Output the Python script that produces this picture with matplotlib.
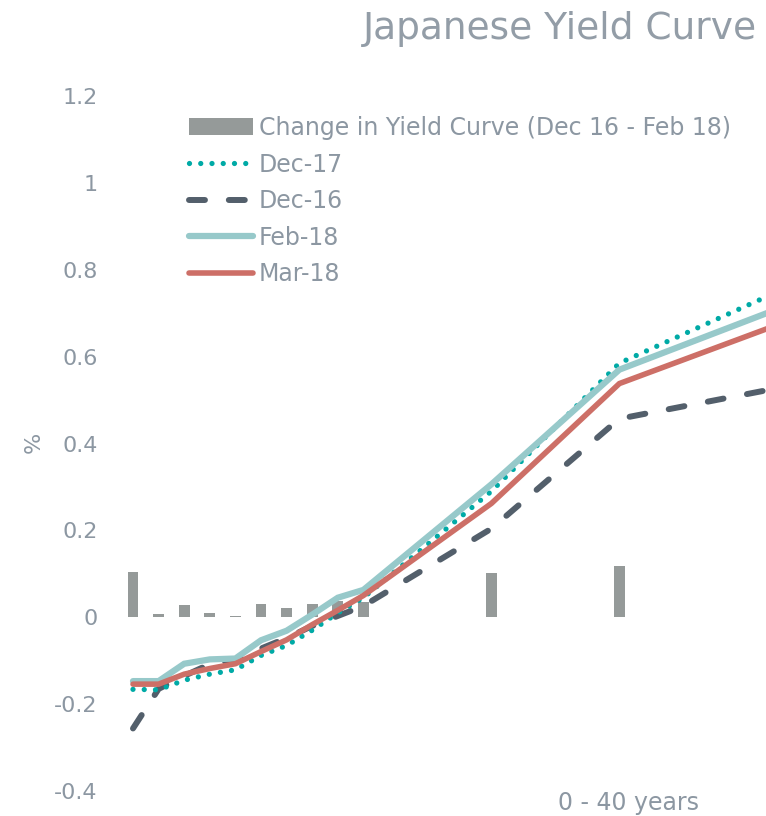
import matplotlib
matplotlib.use("Agg")
import matplotlib.pyplot as plt

plt.rcParams["font.family"] = ["DejaVu Sans"]

# Maturities in years
years = [1, 2, 3, 4, 5, 6, 7, 8, 9, 10, 15, 20, 30]
bar_years = [1, 2, 3, 4, 5, 6, 7, 8, 9, 10, 15, 20]

# Yields (%)
dec17 = [-0.166, -0.167, -0.145, -0.131, -0.121, -0.088, -0.065, -0.030, 0.010, 0.045, 0.290, 0.585, 0.851]
dec16 = [-0.256, -0.165, -0.135, -0.108, -0.098, -0.072, -0.048, -0.020, 0.003, 0.026, 0.204, 0.457, 0.571]
feb18 = [-0.147, -0.147, -0.107, -0.097, -0.095, -0.053, -0.031, 0.006, 0.045, 0.063, 0.306, 0.570, 0.796]
mar18 = [-0.154, -0.154, -0.131, -0.118, -0.107, -0.079, -0.052, -0.017, 0.016, 0.050, 0.262, 0.538, 0.757]

# Change in yield curve, Dec 16 - Feb 18
change = [0.104, 0.008, 0.029, 0.010, 0.002, 0.031, 0.021, 0.031, 0.038, 0.035, 0.103, 0.117]

ytick_vals = [1.2, 1.0, 0.8, 0.6, 0.4, 0.2, 0.0, -0.2, -0.4]
ytick_labels = ["1.2", "1", "0.8", "0.6", "0.4", "0.2", "0", "-0.2", "-0.4"]

TXT = "#8c97a2"
C_BAR = "#959a99"
C_DEC17 = "#00aaa6"
C_DEC16 = "#535f6b"
C_FEB18 = "#97c9ca"
C_MAR18 = "#cd6f67"

fig = plt.figure(figsize=(7.66, 8.16), dpi=100)
ax = fig.add_axes([110 / 766, 25 / 816, 656 / 766, 695 / 816])

bars = ax.bar(bar_years, change, width=0.42, color=C_BAR, zorder=1,
              label="Change in Yield Curve (Dec 16 - Feb 18)")

l_dec16, = ax.plot(years, dec16, color=C_DEC16, lw=4.3, dashes=(2.67, 4.0),
                   dash_capstyle="round", zorder=2, label="Dec-16")
l_dec17, = ax.plot(years, dec17, color=C_DEC17, lw=3.8, dashes=(0.001, 2.13),
                   dash_capstyle="round", zorder=3, label="Dec-17")
l_feb18, = ax.plot(years, feb18, color=C_FEB18, lw=4.5, solid_capstyle="round",
                   solid_joinstyle="miter", zorder=4, label="Feb-18")
l_mar18, = ax.plot(years, mar18, color=C_MAR18, lw=4.0, solid_capstyle="round",
                   solid_joinstyle="miter", zorder=5, label="Mar-18")

ax.set_xlim(0.1016, 25.727)
ax.set_ylim(-0.4, 1.2)
ax.set_xticks([])
ax.set_yticks(ytick_vals)
ax.set_yticklabels(ytick_labels)
ax.tick_params(axis="y", length=0, pad=9, labelsize=16, labelcolor=TXT)
for s in ax.spines.values():
    s.set_visible(False)

handles = [bars, l_dec17, l_dec16, l_feb18, l_mar18]
leg = fig.legend(handles, [h.get_label() for h in handles],
                 loc="upper left", bbox_to_anchor=(189 / 766, (816 - 116) / 816),
                 frameon=False, fontsize=17, handlelength=2.71, handletextpad=0.25,
                 labelspacing=0.53, borderpad=0, borderaxespad=0, labelcolor=TXT)

fig.text(757 / 766, (816 - 39) / 816, "Japanese Yield Curve", ha="right",
         va="baseline", fontsize=27, color="#939da7")
fig.text(34 / 766, (816 - 442) / 816, "%", rotation=90, ha="center",
         va="center", fontsize=16, color=TXT)
fig.text(628 / 766, (816 - 810) / 816, "0 - 40 years", ha="center",
         va="baseline", fontsize=17, color=TXT)

fig.savefig("out.png", dpi=100)
